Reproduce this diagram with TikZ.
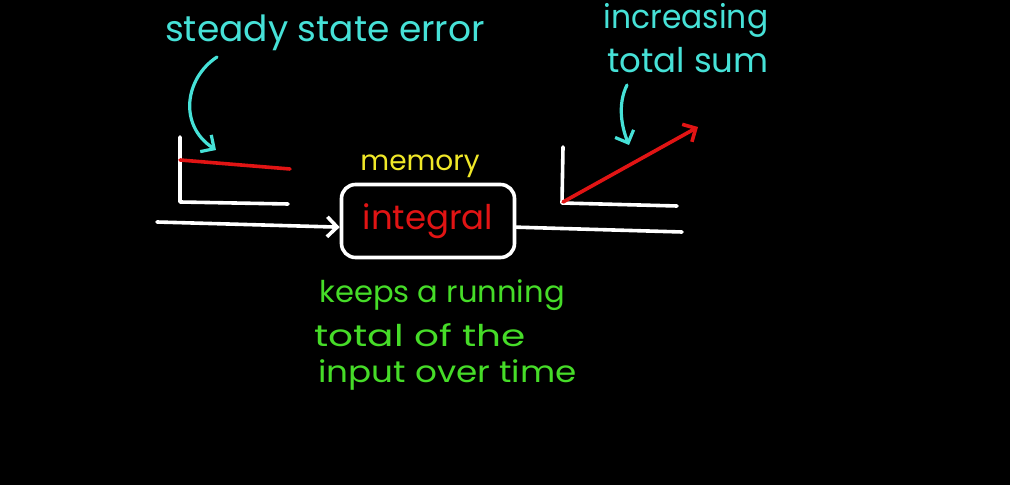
\documentclass[tikz,border=0pt]{standalone}
\usepackage{fontspec}
\setmainfont{Poppins}
\usetikzlibrary{arrows.meta}
\definecolor{cy}{RGB}{70,225,215}
\definecolor{rd}{RGB}{225,20,20}
\definecolor{yl}{RGB}{240,232,40}
\definecolor{gr}{RGB}{70,220,40}
\begin{document}
\begin{tikzpicture}[x=0.5pt,y=-0.5pt, line cap=round, line join=round,
  wline/.style={draw=white,line width=1.8pt},
  rline/.style={draw=rd,line width=1.8pt},
  cline/.style={draw=cy,line width=1.6pt,-{Straight Barb[length=5pt,width=10pt,line width=1.6pt]}},
  lbl/.style={inner sep=0pt, font=\fontsize{15}{17}\selectfont},
  grn/.style={lbl, text=gr, anchor=west},
  blk/.style={draw=white,line width=1.8pt,rounded corners=7pt,minimum width=86.5pt,minimum height=36.5pt,inner sep=0pt,text=rd,font=\fontsize{17}{19}\selectfont}]
\fill[black] (0,0) rectangle (1010,485);
\useasboundingbox (0,0) rectangle (1010,485);
% labels
\node[lbl,text=cy,font=\fontsize{18}{20}\selectfont] (sse) at (325,33) {steady state error};
\node[lbl,text=cy,font=\fontsize{16.5}{18}\selectfont] (inc) at (686,20) {\scalebox{0.95}[1]{increasing}};
\node[lbl,text=cy,font=\fontsize{17}{19}\selectfont] (tot) at (688,60) {total sum};
\node[lbl,text=yl,font=\fontsize{14}{16}\selectfont] (mem) at (420,166) {memory};
\node[blk] (box) at (428,221) {integral};
\node[grn] (g1) at (319,295) {\scalebox{1.02}[1]{keeps a running}};
\node[grn] (g2) at (314,335) {\scalebox{1.3}[1]{total of the}};
\node[grn] (g3) at (318,375) {\scalebox{1.14}[1]{input over time}};
% left plot
\draw[wline] (180,137) -- (180,202) -- (288,204);
\draw[rline] (180,160) -- (290,169);
% right plot
\draw[wline] (563,147) -- (562,203) -- (677,206);
\draw[rline,-{Straight Barb[length=5pt,width=10pt,line width=1.8pt]}] (563,202) -- (698,127);
% connectors
\coordinate (in) at (157,222);
\coordinate (out) at (682,232);
\draw[wline,-{Straight Barb[length=5pt,width=10pt,line width=1.8pt]}] (in) -- (box.184);
\draw[wline] (box.356) -- (out);
% pointer arrows
\coordinate (p1) at (217,57);
\coordinate (q1) at (216,150);
\draw[cline] (p1) .. controls (185,78) and (178,125) .. (q1);
\coordinate (p2) at (627,85);
\coordinate (q2) at (629,145);
\draw[cline] (p2) .. controls (617,105) and (622,128) .. (q2);
\end{tikzpicture}
\end{document}
